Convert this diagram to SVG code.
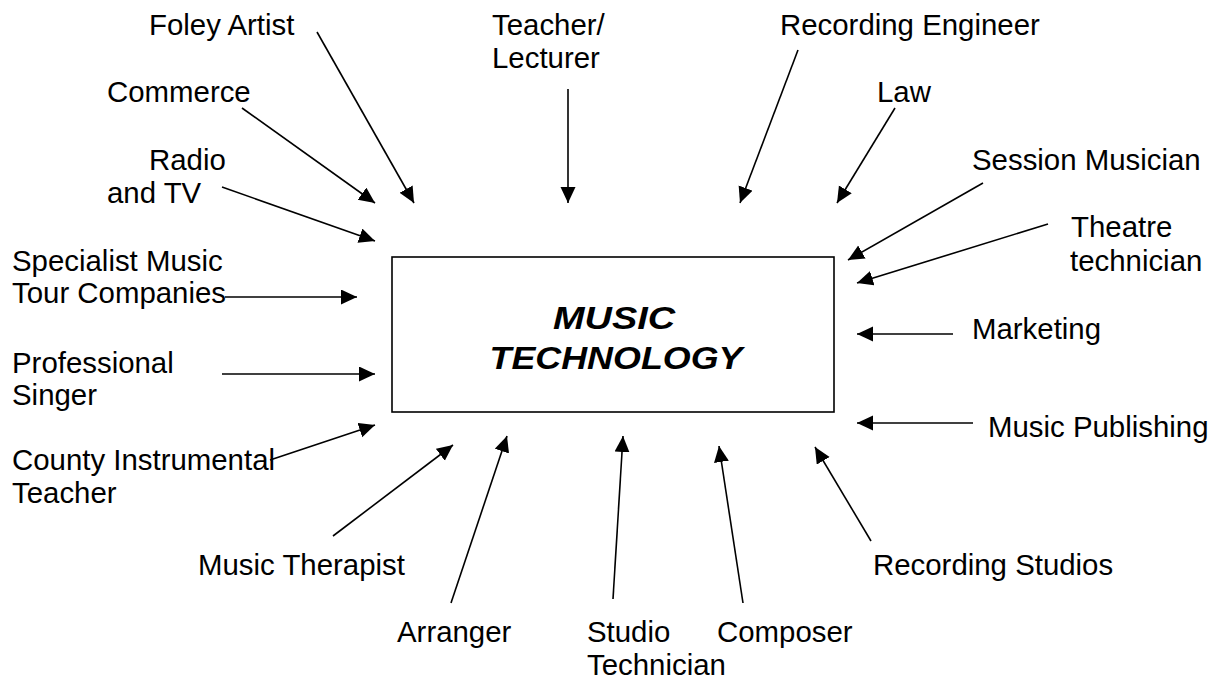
<svg xmlns="http://www.w3.org/2000/svg" width="1214" height="679" viewBox="0 0 1214 679">
<style>
text{font-family:"Liberation Sans",Arial,sans-serif;font-size:29.4px;fill:#000}
.title{font-weight:bold;font-style:italic;font-size:32px}
.c line{stroke:#000;stroke-width:1.6;marker-end:url(#ah)}
</style>
<defs>
<marker id="ah" markerUnits="userSpaceOnUse" markerWidth="17" markerHeight="16" refX="16" refY="7.5" orient="auto" viewBox="0 0 17 16">
<path d="M0,0 L16,7.5 L0,15 z" fill="#000"/>
</marker>
</defs>
<rect width="1214" height="679" fill="#fff"/>
<g id="center">
<rect x="392" y="257" width="442" height="155" fill="none" stroke="#000" stroke-width="1.6"/>
<text class="title" x="614" y="329" text-anchor="middle" textLength="122" lengthAdjust="spacingAndGlyphs">MUSIC</text>
<text class="title" x="616" y="369" text-anchor="middle" textLength="253" lengthAdjust="spacingAndGlyphs">TECHNOLOGY</text>
</g>
<g id="foley"><text x="149" y="35">Foley Artist</text></g>
<g id="teacher"><text x="492" y="35">Teacher/</text><text x="492" y="68">Lecturer</text></g>
<g id="receng"><text x="780" y="35">Recording Engineer</text></g>
<g id="commerce"><text x="107" y="102">Commerce</text></g>
<g id="law"><text x="877" y="102">Law</text></g>
<g id="radio"><text x="149" y="170">Radio</text><text x="107" y="203">and TV</text></g>
<g id="session"><text x="972" y="170">Session Musician</text></g>
<g id="theatre"><text x="1071" y="237">Theatre</text><text x="1070" y="271">technician</text></g>
<g id="specialist"><text x="12" y="271">Specialist Music</text><text x="12" y="303">Tour Companies</text></g>
<g id="marketing"><text x="972" y="339">Marketing</text></g>
<g id="singer"><text x="12" y="373">Professional</text><text x="12" y="405">Singer</text></g>
<g id="publishing"><text x="988" y="437">Music Publishing</text></g>
<g id="county"><text x="12" y="470">County Instrumental</text><text x="12" y="503">Teacher</text></g>
<g id="therapist"><text x="198" y="575">Music Therapist</text></g>
<g id="studios"><text x="873" y="575">Recording Studios</text></g>
<g id="arranger"><text x="397" y="642">Arranger</text></g>
<g id="studiotech"><text x="587" y="642">Studio</text><text x="587" y="675">Technician</text></g>
<g id="composer"><text x="717" y="642">Composer</text></g>
<g id="connectors" class="c">
<line x1="317" y1="32" x2="414" y2="203"/>
<line x1="242" y1="108" x2="375" y2="203"/>
<line x1="222" y1="187" x2="375" y2="241"/>
<line x1="568" y1="89" x2="568" y2="203"/>
<line x1="798" y1="50" x2="740" y2="203"/>
<line x1="895" y1="108" x2="837" y2="203"/>
<line x1="983" y1="183" x2="848" y2="260"/>
<line x1="1048" y1="224" x2="857" y2="283"/>
<line x1="225" y1="297" x2="357" y2="297"/>
<line x1="222" y1="374" x2="375" y2="374"/>
<line x1="270" y1="460" x2="375" y2="425"/>
<line x1="953" y1="334" x2="857" y2="334"/>
<line x1="973" y1="423" x2="857" y2="423"/>
<line x1="333" y1="536" x2="453" y2="445"/>
<line x1="451" y1="603" x2="507" y2="436"/>
<line x1="613" y1="599" x2="623" y2="436"/>
<line x1="743" y1="603" x2="719" y2="446"/>
<line x1="871" y1="541" x2="815" y2="447"/>
</g>
</svg>
